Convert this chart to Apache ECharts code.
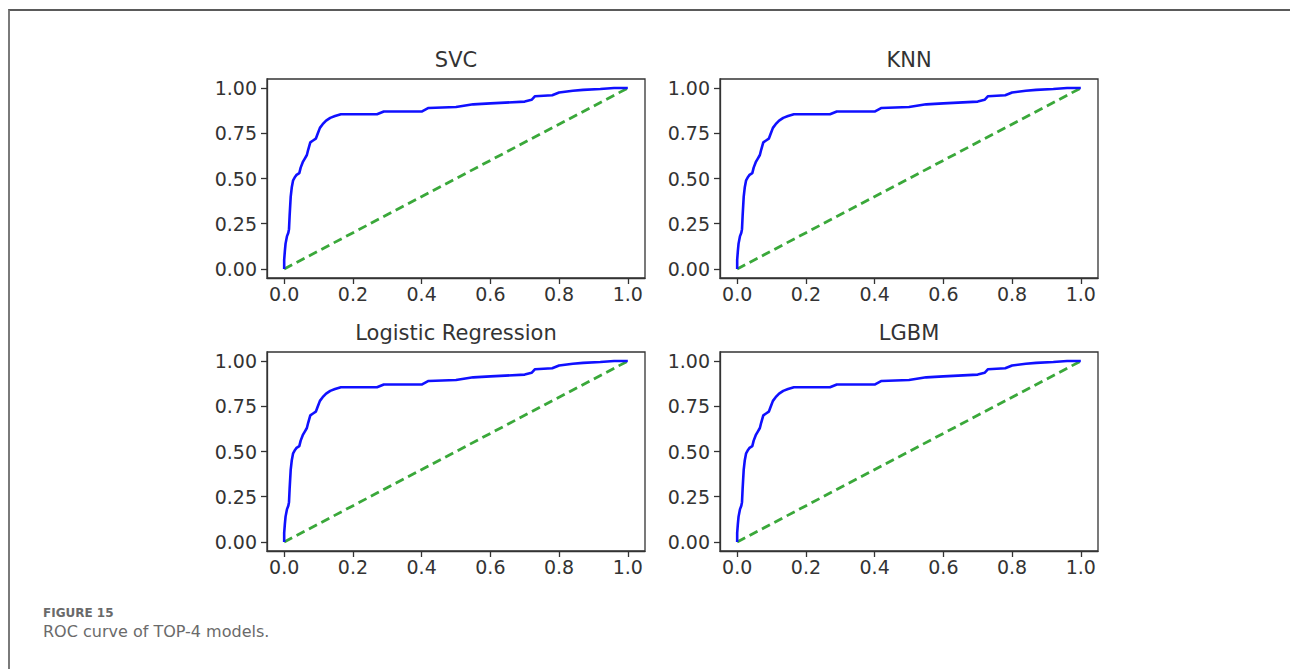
<!DOCTYPE html>
<html>
<head>
<meta charset="utf-8">
<script src="https://cdn.jsdelivr.net/npm/echarts@6/dist/echarts.min.js"></script>
<style>
  html, body { margin: 0; padding: 0; background: #fff; }
  #frame { position: absolute; left: 8px; top: 9px; width: 1290px; height: 669px;
           border-top: 2px solid #5a5a5a; border-left: 2px solid #7a7a7a; }
  #chart { position: absolute; left: 0; top: 0; width: 1290px; height: 669px; }
</style>
</head>
<body>
<div id="frame"></div>
<div id="chart"></div>
<script>
// ---- data ----
const panelTitles = ['SVC', 'KNN', 'Logistic Regression', 'LGBM'];
const xTicks = [0, 0.2, 0.4, 0.6, 0.8, 1.0];
const yTicks = [0, 0.25, 0.5, 0.75, 1.0];
// ROC curve (identical in all four panels)
const fpr = [0, 0, 0.002, 0.004, 0.008, 0.012, 0.014, 0.016, 0.019, 0.022, 0.026, 0.032, 0.036, 0.044, 0.048, 0.054, 0.060, 0.066, 0.070, 0.076, 0.084, 0.092, 0.098, 0.104, 0.112, 0.122, 0.134, 0.148, 0.165, 0.270, 0.290, 0.400, 0.420, 0.500, 0.550, 0.600, 0.700, 0.720, 0.730, 0.780, 0.800, 0.840, 0.870, 0.920, 0.960, 1.0];
const tpr = [0, 0.05, 0.10, 0.14, 0.18, 0.20, 0.22, 0.30, 0.40, 0.45, 0.49, 0.51, 0.52, 0.53, 0.56, 0.59, 0.61, 0.63, 0.66, 0.70, 0.71, 0.72, 0.75, 0.78, 0.80, 0.82, 0.835, 0.845, 0.855, 0.855, 0.87, 0.87, 0.89, 0.895, 0.91, 0.915, 0.925, 0.935, 0.955, 0.96, 0.975, 0.985, 0.99, 0.995, 1.0, 1.0];
// chance diagonal
const diagX = [0, 1];
const diagY = [0, 1];

// ---- layout ----
const colLeft = [267, 720];
const rowTop = [79, 352];
const gw = 378, gh = 199;
const textColor = '#333333';
const tickFont = 19;

const grids = [], xAxes = [], yAxes = [], series = [], titles = [];
panelTitles.forEach((t, i) => {
  const c = i % 2, r = Math.floor(i / 2);
  grids.push({ left: colLeft[c], top: rowTop[r], width: gw, height: gh,
               show: true, borderColor: '#333', borderWidth: 1.3, backgroundColor: '#fff' });
  xAxes.push({ type: 'value', gridIndex: i, min: -0.05, max: 1.05,
    axisLine: { show: true, onZero: false, lineStyle: { color: '#333', width: 1.3 } },
    axisTick: { show: true, length: 6, customValues: xTicks, lineStyle: { color: '#333', width: 1.3 } },
    axisLabel: { customValues: xTicks, formatter: v => v.toFixed(1), color: textColor,
                 fontSize: tickFont, fontFamily: 'DejaVu Sans', margin: 6 },
    splitLine: { show: false } });
  yAxes.push({ type: 'value', gridIndex: i, min: -0.05, max: 1.05,
    axisLine: { show: true, onZero: false, lineStyle: { color: '#333', width: 1.3 } },
    axisTick: { show: true, length: 6, customValues: yTicks, lineStyle: { color: '#333', width: 1.3 } },
    axisLabel: { customValues: yTicks, formatter: v => v.toFixed(2), color: textColor,
                 fontSize: tickFont, fontFamily: 'DejaVu Sans', margin: 10 },
    splitLine: { show: false } });
  series.push({ type: 'line', xAxisIndex: i, yAxisIndex: i, showSymbol: false, symbol: 'none',
    data: fpr.map((x, k) => [x, tpr[k]]), lineStyle: { color: '#1010ff', width: 2.6 }, z: 3 });
  series.push({ type: 'line', xAxisIndex: i, yAxisIndex: i, showSymbol: false, symbol: 'none',
    data: diagX.map((x, k) => [x, diagY[k]]), lineStyle: { color: '#3aa83a', width: 2.8, type: [9, 5] }, z: 2 });
  titles.push({ text: t, left: colLeft[c] + gw / 2, top: rowTop[r] - 30, padding: 0, textAlign: 'center',
    textStyle: { fontFamily: 'DejaVu Sans', fontSize: 21, fontWeight: 'normal', color: textColor } });
});
titles.push({ text: 'FIGURE 15', left: 43, top: 606, padding: 0,
  textStyle: { fontFamily: 'DejaVu Sans', fontSize: 12, fontWeight: 'bold', color: '#6a6a6a', lineHeight: 14 } });
titles.push({ text: 'ROC curve of TOP-4 models.', left: 43, top: 621, padding: 0,
  textStyle: { fontFamily: 'DejaVu Sans', fontSize: 16, fontWeight: 'normal', color: '#6a6a6a', lineHeight: 20 } });

const chart = echarts.init(document.getElementById('chart'), null, { renderer: 'svg' });
chart.setOption({
  animation: false,
  backgroundColor: 'transparent',
  title: titles,
  grid: grids,
  xAxis: xAxes,
  yAxis: yAxes,
  series: series
});
</script>
</body>
</html>
